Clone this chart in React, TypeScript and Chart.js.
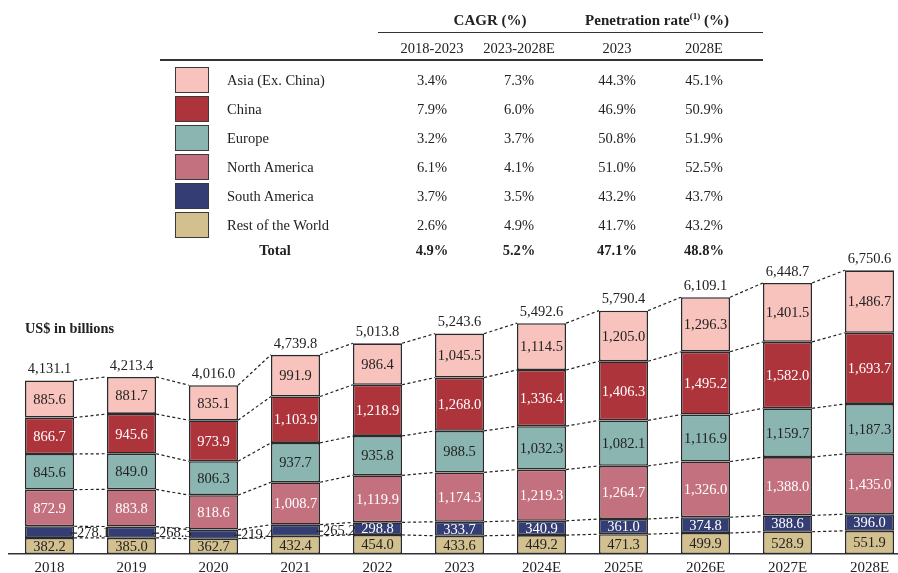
import React, { useEffect, useRef } from "react";
import { Chart, registerables } from "chart.js";

Chart.register(...registerables);

const years = ["2018", "2019", "2020", "2021", "2022", "2023", "2024E", "2025E", "2026E", "2027E", "2028E"];
const asiaExChina = [885.6, 881.7, 835.1, 991.9, 986.4, 1045.5, 1114.5, 1205.0, 1296.3, 1401.5, 1486.7];
const china = [866.7, 945.6, 973.9, 1103.9, 1218.9, 1268.0, 1336.4, 1406.3, 1495.2, 1582.0, 1693.7];
const europe = [845.6, 849.0, 806.3, 937.7, 935.8, 988.5, 1032.3, 1082.1, 1116.9, 1159.7, 1187.3];
const northAmerica = [872.9, 883.8, 818.6, 1008.7, 1119.9, 1174.3, 1219.3, 1264.7, 1326.0, 1388.0, 1435.0];
const southAmerica = [278.1, 268.3, 219.4, 265.2, 298.8, 333.7, 340.9, 361.0, 374.8, 388.6, 396.0];
const restOfWorld = [382.2, 385.0, 362.7, 432.4, 454.0, 433.6, 449.2, 471.3, 499.9, 528.9, 551.9];
const totals = [4131.1, 4213.4, 4016.0, 4739.8, 5013.8, 5243.6, 5492.6, 5790.4, 6109.1, 6448.7, 6750.6];

const regionNames = ["Asia (Ex. China)", "China", "Europe", "North America", "South America", "Rest of the World"];
const cagr1823 = ["3.4%", "7.9%", "3.2%", "6.1%", "3.7%", "2.6%"];
const cagr2328 = ["7.3%", "6.0%", "3.7%", "4.1%", "3.5%", "4.9%"];
const pen2023 = ["44.3%", "46.9%", "50.8%", "51.0%", "43.2%", "41.7%"];
const pen2028 = ["45.1%", "50.9%", "51.9%", "52.5%", "43.7%", "43.2%"];
const totalRow = ["4.9%", "5.2%", "47.1%", "48.8%"];
const subHeaders = ["2018-2023", "2023-2028E", "2023", "2028E"];

const colors = ["#F9C3BD", "#AE343C", "#8AB5B0", "#C3717F", "#343E75", "#D3C08F"];
const labelColors = ["#222", "#fff", "#222", "#fff", "#fff", "#222"];

const FONT = '"Liberation Serif", "Times New Roman", serif';
const fmt = (v: number) => v.toLocaleString("en-US", { minimumFractionDigits: 1, maximumFractionDigits: 1 });

const labelPlugin = {
  id: "segLabels",
  afterDatasetsDraw(chart: any) {
    const ctx = chart.ctx;
    const n = years.length;
    const dsCount = chart.data.datasets.length;
    ctx.save();
    // connectors
    ctx.setLineDash([3, 2.5]);
    ctx.strokeStyle = "#222";
    ctx.lineWidth = 1.2;
    for (let d = 0; d < dsCount; d++) {
      const meta = chart.getDatasetMeta(d);
      for (let i = 0; i < n - 1; i++) {
        const a = meta.data[i].getProps(["x", "y", "width"], true);
        const b = meta.data[i + 1].getProps(["x", "y", "width"], true);
        ctx.beginPath();
        ctx.moveTo(a.x + a.width / 2, a.y);
        ctx.lineTo(b.x - b.width / 2, b.y);
        ctx.stroke();
      }
    }
    ctx.setLineDash([]);
    ctx.font = `14.5px ${FONT}`;
    ctx.textBaseline = "middle";
    for (let d = 0; d < dsCount; d++) {
      const meta = chart.getDatasetMeta(d);
      const ds = chart.data.datasets[d];
      for (let i = 0; i < n; i++) {
        const el = meta.data[i].getProps(["x", "y", "base", "width"], true);
        const v = ds.data[i];
        const cy = (el.y + el.base) / 2;
        if (ds.key === "sa" && v < 290) {
          const right = el.x + el.width / 2;
          ctx.strokeStyle = "#222";
          ctx.lineWidth = 1.2;
          ctx.beginPath();
          ctx.moveTo(right - 4, cy + 1);
          ctx.lineTo(right + 3, cy + 1);
          ctx.stroke();
          ctx.fillStyle = "#222";
          ctx.textAlign = "left";
          ctx.fillText(fmt(v), right + 3, cy + 1);
        } else {
          ctx.fillStyle = ds.labelColor;
          ctx.textAlign = "center";
          ctx.fillText(fmt(v), el.x, cy + 1);
        }
      }
    }
    // totals
    const topMeta = chart.getDatasetMeta(dsCount - 1);
    ctx.fillStyle = "#222";
    ctx.textAlign = "center";
    for (let i = 0; i < n; i++) {
      const el = topMeta.data[i].getProps(["x", "y"], true);
      ctx.fillText(fmt(totals[i]), el.x, el.y - 11);
    }
    ctx.restore();
  },
};

function ChartCanvas() {
  const ref = useRef<HTMLCanvasElement | null>(null);
  useEffect(() => {
    if (!ref.current) return;
    const series = [
      { key: "row", data: restOfWorld, c: 5 },
      { key: "sa", data: southAmerica, c: 4 },
      { key: "na", data: northAmerica, c: 3 },
      { key: "eu", data: europe, c: 2 },
      { key: "cn", data: china, c: 1 },
      { key: "asia", data: asiaExChina, c: 0 },
    ];
    const chart = new Chart(ref.current, {
      type: "bar",
      data: {
        labels: years,
        datasets: series.map((s) => ({
          key: s.key,
          label: regionNames[s.c],
          data: s.data,
          backgroundColor: colors[s.c],
          borderColor: "#2a2a2a",
          borderWidth: 1.6,
          borderSkipped: false,
          labelColor: labelColors[s.c],
          categoryPercentage: 1,
          barPercentage: 0.6,
        })) as any,
      },
      options: {
        responsive: false,
        animation: false,
        events: [],
        layout: { padding: { left: 8.5, right: 9.5, top: 259.8, bottom: 4 } },
        plugins: { legend: { display: false }, tooltip: { enabled: false }, title: { display: false } },
        scales: {
          x: {
            stacked: true,
            grid: { display: false, drawTicks: false },
            border: { display: true, color: "#333", width: 1.5 },
            ticks: { color: "#222", font: { family: FONT, size: 15 }, padding: 5, maxRotation: 0 },
          },
          y: {
            stacked: true,
            display: false,
            min: 0,
            max: 7000,
          },
        },
      },
      plugins: [labelPlugin],
    });
    return () => chart.destroy();
  }, []);
  return (
    <canvas
      ref={ref}
      width={920}
      height={586}
      style={{ position: "absolute", left: 0, top: 0, width: 920, height: 586 }}
    />
  );
}

const T = (props: { x: number; y: number; children: any; bold?: boolean; size?: number; align?: "center" | "left" }) => {
  const align = props.align || "center";
  return (
    <div
      style={{
        position: "absolute",
        left: props.x,
        top: props.y,
        transform: align === "center" ? "translate(-50%, -50%)" : "translate(0, -50%)",
        whiteSpace: "nowrap",
        fontWeight: props.bold ? "bold" : "normal",
        fontSize: props.size || 14.5,
        lineHeight: 1,
        color: "#222",
      }}
    >
      {props.children}
    </div>
  );
};

export default function App() {
  const colX = [432, 519, 617, 704];
  const rowY = [80, 109, 138, 167, 196, 225];
  return (
    <div
      style={{
        position: "absolute",
        left: 0,
        top: 0,
        width: 898,
        height: 573,
        overflow: "hidden",
        background: "#fff",
        fontFamily: FONT,
      }}
    >
      <ChartCanvas />
      <T x={490} y={19.5} bold size={15}>CAGR (%)</T>
      <T x={657} y={19.5} bold size={15}>
        Penetration rate<sup style={{ fontSize: 9, verticalAlign: "super", lineHeight: 0 }}>(1)</sup> (%)
      </T>
      <div style={{ position: "absolute", left: 378, top: 31.5, width: 385, height: 1.5, background: "#333" }} />
      {subHeaders.map((s, i) => (
        <T key={s} x={colX[i]} y={47.5}>{s}</T>
      ))}
      <div style={{ position: "absolute", left: 160, top: 59, width: 603, height: 1.5, background: "#333" }} />
      {regionNames.map((name, r) => (
        <React.Fragment key={name}>
          <div
            style={{
              position: "absolute",
              left: 175,
              top: rowY[r] - 13,
              width: 34,
              height: 26,
              boxSizing: "border-box",
              border: "1.6px solid #3a3a3a",
              background: colors[r],
            }}
          />
          <T x={227} y={rowY[r]} align="left">{name}</T>
          <T x={colX[0]} y={rowY[r]}>{cagr1823[r]}</T>
          <T x={colX[1]} y={rowY[r]}>{cagr2328[r]}</T>
          <T x={colX[2]} y={rowY[r]}>{pen2023[r]}</T>
          <T x={colX[3]} y={rowY[r]}>{pen2028[r]}</T>
        </React.Fragment>
      ))}
      <T x={275} y={250} bold>Total</T>
      {totalRow.map((v, i) => (
        <T key={i} x={colX[i]} y={250} bold>{v}</T>
      ))}
      <T x={25} y={328} bold size={14.3} align="left">US$ in billions</T>
    </div>
  );
}
